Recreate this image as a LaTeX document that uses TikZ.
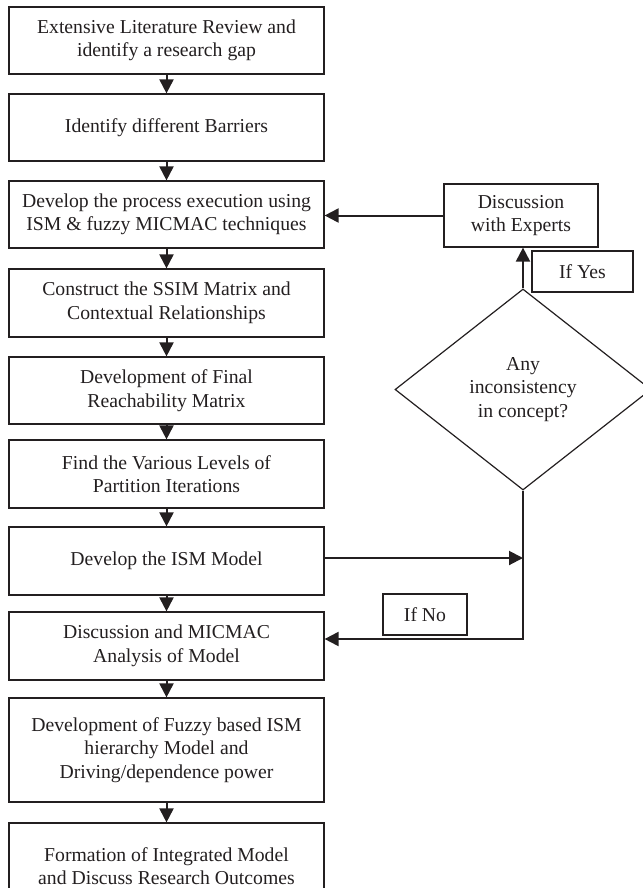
\documentclass[tikz,border=0pt]{standalone}
\usepackage{fontspec}
\setmainfont{Liberation Serif}
\usetikzlibrary{arrows.meta}
\usetikzlibrary{shapes.geometric}
\definecolor{ink}{RGB}{35,31,32}
\tikzstyle{process}=[draw=ink, line width=1.2pt, align=center, inner sep=0pt, minimum width=315pt, minimum height=67pt, text=ink, font=\fontsize{19.7}{23.5}\selectfont]
\tikzstyle{tag}=[process, minimum width=84pt, minimum height=41pt]
\tikzstyle{decision}=[process, diamond, minimum width=256pt, minimum height=201pt]
\tikzstyle{flow}=[draw=ink, line width=2pt, -{Triangle[width=14pt, length=14pt]}]

\begin{document}
\begin{tikzpicture}[x=1pt, y=-1pt]
      \useasboundingbox (0, 0) rectangle (642, 888);
      \node[process] (review) at (166.5, 40.5) {Extensive Literature Review and\\identify a research gap};
      \node[process] (barriers) at (166.5, 127.5) {Identify different Barriers};
      \node[process] (execution) at (166.5, 214.5) {Develop the process execution using\\ISM \& fuzzy MICMAC techniques};
      \node[process, minimum height=68pt] (ssim) at (166.5, 303) {Construct the SSIM Matrix and\\Contextual Relationships};
      \node[process] (reach) at (166.5, 390.5) {Development of Final\\Reachability Matrix};
      \node[process, minimum height=68pt] (levels) at (166.5, 474) {Find the Various Levels of\\Partition Iterations};
      \node[process, minimum height=68pt] (ism) at (166.5, 561) {Develop the ISM Model};
      \node[process, minimum height=68pt] (micmac) at (166.5, 646) {Discussion and MICMAC\\Analysis of Model};
      \node[process, minimum height=104pt] (fuzzy) at (166.5, 750) {Development of Fuzzy based ISM\\hierarchy Model and\\Driving/dependence power};
      \node[process, minimum height=86pt] (outcome) at (166.5, 866) {Formation of Integrated Model\\and Discuss Research Outcomes};

      \node[process, minimum width=154pt, minimum height=63pt] (experts) at (521, 215.5) {Discussion\\with Experts};
      \node[tag, minimum width=101pt] (yes) at (582.5, 271.5) {If Yes};
      \node[decision] (check) at (523, 389.5) {Any\\inconsistency\\in concept?};
      \node[tag] (no) at (425, 614.5) {If No};

      \draw[flow] (review) -- (barriers);
      \draw[flow] (barriers) -- (execution);
      \draw[flow] (execution) -- (ssim);
      \draw[flow] (ssim) -- (reach);
      \draw[flow] (reach) -- (levels);
      \draw[flow] (levels) -- (ism);
      \draw[flow] (ism) -- (micmac);
      \draw[flow] (micmac) -- (fuzzy);
      \draw[flow] (fuzzy) -- (outcome);

      \draw[flow] (experts.west) -- (experts.west -| execution.east);
      \draw[flow] (check.north) -- (check.north |- experts.south);
      \draw[flow] ([yshift=3pt]ism.east) -- ([yshift=3pt]ism.east -| check.south);
      \draw[flow] (check.south) |- ([yshift=7pt]micmac.east);
    \end{tikzpicture}
\end{document}
